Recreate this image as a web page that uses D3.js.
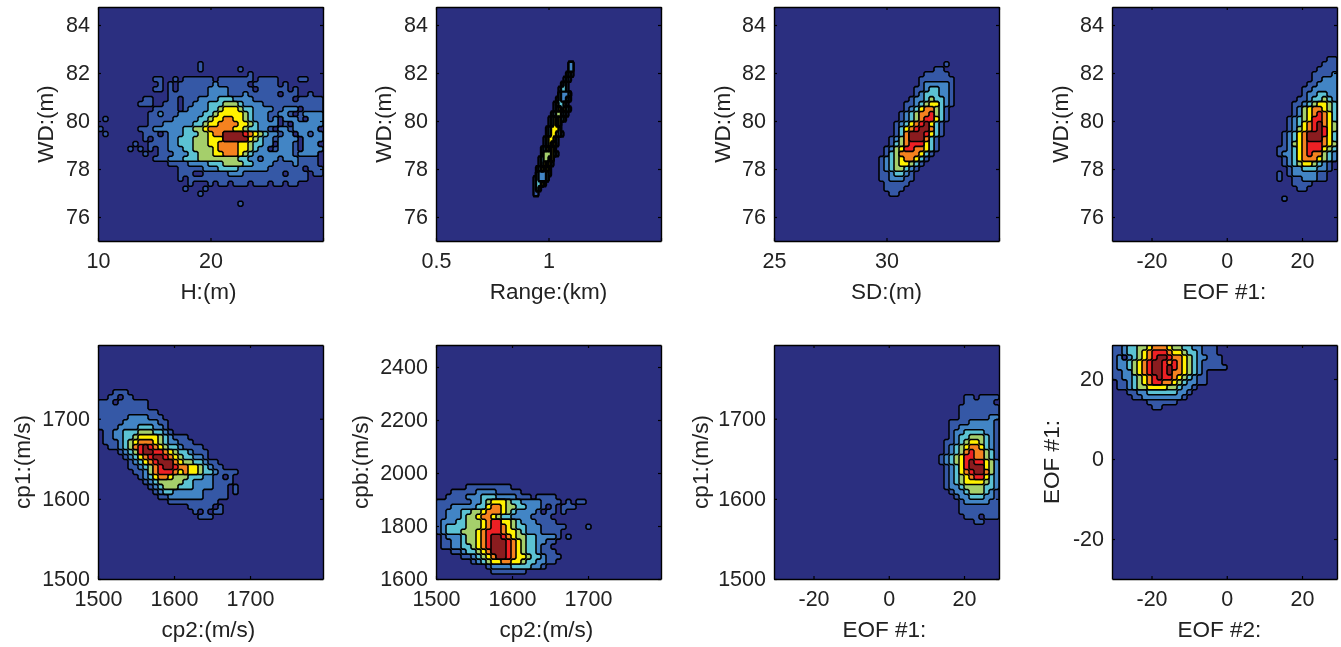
<!DOCTYPE html>
<html>
<head>
<meta charset="utf-8">
<script src="https://cdn.jsdelivr.net/npm/d3@7"></script>
<style>
  html, body { margin: 0; padding: 0; background: #fff; }
  svg { display: block; filter: blur(0.55px); }
  text { font-family: "Liberation Sans", Arial, sans-serif; fill: #222; }
</style>
</head>
<body>
<div id="chart"></div>
<script>
// axis ranges and labels, one entry per panel (top row then bottom row)
const xDomains = [[10, 30], [0.5, 1.5], [25, 35], [-30.5, 29.3], [1500, 1796], [1500, 1796], [-30.5, 29.3], [-30.5, 29.3]];
const yDomains = [[75, 84.75], [75, 84.75], [75, 84.75], [75, 84.75], [1500, 1792], [1600, 2483], [1500, 1792], [-30, 28.5]];
const xTicks = [[10, 20, 30], [0.5, 1, 1.5], [25, 30, 35], [-20, 0, 20], [1500, 1600, 1700], [1500, 1600, 1700], [-20, 0, 20], [-20, 0, 20]];
const xTickLabels = [["10", "20", ""], ["0.5", "1", ""], ["25", "30", ""], ["-20", "0", "20"], ["1500", "1600", "1700"], ["1500", "1600", "1700"], ["-20", "0", "20"], ["-20", "0", "20"]];
const wdTicks = [76, 78, 80, 82, 84];
const cp1Ticks = [1500, 1600, 1700];
const cpbTicks = [1600, 1800, 2000, 2200, 2400];
const eofTicks = [-20, 0, 20];
const yTicks = [wdTicks, wdTicks, wdTicks, wdTicks, cp1Ticks, cpbTicks, cp1Ticks, eofTicks];
const xLabels = ["H:(m)", "Range:(km)", "SD:(m)", "EOF #1:", "cp2:(m/s)", "cp2:(m/s)", "EOF #1:", "EOF #2:"];
const yLabels = ["WD:(m)", "WD:(m)", "WD:(m)", "WD:(m)", "cp1:(m/s)", "cpb:(m/s)", "cp1:(m/s)", "EOF #1:"];

// contour level of each histogram bin ('.' is the background level)
const gridH = [
"....................1",
"....................1.......1",
"..............................1",
"...........11..1.111111.1111111.1111....11",
"............1.1.11111112111111.11111.1",
"...........11.1.111111222211111.111111.1",
"..............1111111122221112111111.111..1",
".........11...11.1112222333222211111111.11111",
"........111..111.11222333444322221111111111111",
"...........11111.12222334555433222211222.1111",
"..........11211122222334555554322211221.12222",
".1........11111222223345566554322212.2221.222",
"..........11122222233455666655432222.1.222222",
"1.......111222222334456666655433221.22122222",
".1.......111.12223334456688887654322122.22122",
".........1.11122333444555888885432212222.2222",
".......1..1111223334445566665543322.2221.222",
"......1.1.1.1122233444456666554322.12221.2222",
".........1..11122233444556665432222222212222",
"...........111222333444444443322122212221111",
"..............111122223334444332222111121111.1",
"................1111122233332222221111111.1111",
"................111..1111122211111111.1111.11",
"................1.111111111111111111111111",
"..................1...1.11.111.111.11.11",
".................1...1",
"....................1",
"",
"............................1"];
const gridRange = [
".....................................................22",
".....................................................22",
"....................................................131",
"...................................................121",
"..................................................131",
".................................................1331",
".................................................32223",
"................................................132231",
"...............................................143341",
"...............................................1353531",
"..............................................1344231",
".............................................1353531",
".............................................13535",
"............................................135553",
"............................................1355431",
"...........................................135531",
"...........................................135351",
"..........................................135351",
"..........................................1444531",
".........................................134425",
".........................................135351",
"........................................135351",
"........................................322231",
".......................................132223",
".......................................13351",
".......................................131",
".......................................11"];
const gridSD = [
"..................................1",
"................................11",
"..............................11111",
".............................1111111",
".............................1222221",
"............................11233221",
"............................12333221",
"...........................122343321",
"..........................1123455321",
"..........................123566431",
".........................1234667431",
".........................1234677531",
"........................1235678531",
"........................1356788631",
"........................1368887531",
".......................1246888631",
".......................1346777531",
"......................12457766531",
"......................1346666531",
".....................1234566531",
".....................123455431",
".....................12344321",
".....................1123321",
".....................1122211",
"......................11111",
"......................1111",
".......................11"];
const gridEofWd = [
"...........................................11",
"..........................................111",
".........................................1111",
"........................................11112",
"........................................11222",
".......................................112222",
"......................................1122222",
"......................................1223322",
".....................................11233432",
"....................................112345543",
"....................................124566543",
"....................................124567653",
"...................................1234577653",
"...................................1235678654",
"...................................1245678754",
"..................................12356888753",
"..................................12356888653",
"..................................12456777654",
".................................112356777543",
".................................122356766432",
"..................................12356665432",
"..................................1234554321",
"...................................122333221",
".................................1.12222211",
".................................1..1122211",
"....................................1111",
".....................................11",
"",
"..................................1"];
const gridCp1 = [
"...111",
"..11.11",
"111.111111",
"1111111111",
"111111111111",
"1111112222111",
"11111222222211",
"11112222333221",
".11223334443321",
".11223345555432111",
".111234566654322111",
"..1123467876543321111",
"....123478877654332111",
".....12356788765433221",
"......123567888654433211",
"......1123467887665543211",
".......112467776565543321111",
"........12356654443332211.1",
".........123444443322221111",
"..........1234443332222111.1",
"...........123322222211111.1",
"............11222222211111",
"..............1111111111",
"..................11111.1",
"...................1.1.11",
"....................111"];
const gridCpb = [
"......111111111",
"...11111222211111",
"..11112223332222111.1111",
"1111111223455543322221111.1.11",
"1112222233566544332221.1.111",
"112223344566654322221.11.1",
"11222344566543322221111",
"122233444567755432221111",
"12333344456776543322211111....1",
"1233344456777655432221111",
".122234456788765443322221.1",
".11223445678887654332211",
".1122334567888765433211",
"...112334568887654332111",
".....11234568876554332111",
".......12345566554332211",
"..........122223333221",
"...........1111111"];
const gridEofCp1 = [
"......................................11.1111",
"......................................111111",
".....................................11111111",
".....................................11111111",
".....................................11111122",
"...................................1111222221",
"...................................1122222221",
"...................................1223333221",
"...................................1233444321",
"..................................11234554321",
"..................................12345665321",
"..................................12346766431",
".................................123457766431",
".................................123457877542",
"..................................12357888542",
"..................................12356788642",
"..................................12345677532",
"..................................12345555432",
"..................................12234444332",
"...................................1223444321",
"....................................122333221",
".....................................12222211",
".....................................11111111",
".....................................11111111",
"......................................111.1111",
"........................................11"];
const gridEofEof = [
"112334456665443322111",
"112334567776554332111",
"12.2345678876654322111",
"1223456788767654321111",
"12234567887876543211111",
"1122456788786654321",
"1122345678776543211",
".112345677665432211",
".1123445555443221",
"...1122333333221",
"....11222222221",
".......111111",
"........11"];

const grids = [gridH, gridRange, gridSD, gridEofWd, gridCp1, gridCpb, gridEofCp1, gridEofEof];
const gridFirstRows = [11, 11, 11, 10, 9, 28, 10, 0];
const gridCols = [45, 90, 45, 45, 45, 45, 45, 45];
const gridRowCount = 47;

const levels = [0.5, 1.5, 2.5, 3.5, 4.5, 5.5, 6.5, 7.5];
const levelColors = ["#3558a6", "#4285c5", "#5bc2d3", "#a5cf6b", "#fff100", "#f5821f", "#ed2024", "#8a1c1f"];
const backgroundColor = "#2b2f80";

const width = 1341;
const height = 647;
const panelLefts = [98, 436, 774, 1112];
const panelTops = [7, 345];
const panelWidth = 225;
const panelHeight = 234;
const xLabelShift = [-2, 0, 0, 0, -2, -2, -2, -5];
const yLabelX = [45, 383, 722, 1060, 22, 360, 700, 1051];
const contourStroke = [1.5, 2.4, 1.6, 1.6, 1.6, 1.6, 1.5, 1.6];
// each bin is repeated so contours step along the bin edges like the original
const repeat = 2;

const svg = d3.select("#chart").append("svg").attr("width", width).attr("height", height);

grids.forEach((rows, p) => {
  const left = panelLefts[p % 4];
  const top = panelTops[Math.floor(p / 4)];
  const xScale = d3.scaleLinear().domain(xDomains[p]).range([0, panelWidth]);
  const yScale = d3.scaleLinear().domain(yDomains[p]).range([panelHeight, 0]);

  const g = svg.append("g").attr("transform", `translate(${left},${top})`);

  svg.append("clipPath").attr("id", "clip" + p)
    .append("rect").attr("width", panelWidth).attr("height", panelHeight);

  // bins to flat array for d3.contours
  const nx = gridCols[p] * repeat;
  const ny = gridRowCount * repeat;
  const values = new Array(nx * ny).fill(0);
  rows.forEach((row, i) => {
    row.split("").forEach((c, j) => {
      if (c === "." || j >= gridCols[p]) return;
      for (let a = 0; a < repeat; a++) {
        for (let b = 0; b < repeat; b++) {
          values[((i + gridFirstRows[p]) * repeat + a) * nx + j * repeat + b] = +c;
        }
      }
    });
  });

  const dx = (xDomains[p][1] - xDomains[p][0]) / nx;
  const dy = (yDomains[p][1] - yDomains[p][0]) / ny;
  const path = d3.geoPath(d3.geoTransform({
    point(gx, gy) {
      this.stream.point(xScale(xDomains[p][0] + gx * dx), yScale(yDomains[p][1] - gy * dy));
    },
  }));

  const contours = d3.contours().size([nx, ny]).smooth(false).thresholds(levels)(values);

  const plot = g.append("g").attr("clip-path", `url(#clip${p})`);
  plot.append("rect").attr("width", panelWidth).attr("height", panelHeight).attr("fill", backgroundColor);
  plot.selectAll("path")
    .data(contours)
    .enter()
    .append("path")
    .attr("d", path)
    .attr("fill", (d, i) => levelColors[i])
    .attr("stroke", "#000")
    .attr("stroke-width", contourStroke[p])
    .attr("stroke-linejoin", "miter");

  // box with inward ticks on all four sides
  const bottom = d3.axisBottom(xScale).tickValues(xTicks[p]).tickSizeInner(-3).tickSizeOuter(0).tickPadding(12)
    .tickFormat((d, i) => xTickLabels[p][i]);
  const leftAxis = d3.axisLeft(yScale).tickValues(yTicks[p]).tickSizeInner(-3).tickSizeOuter(0).tickPadding(8)
    .tickFormat((d) => String(d));
  const topAxis = d3.axisTop(xScale).tickValues(xTicks[p]).tickSizeInner(-3).tickSizeOuter(0).tickFormat("");
  const rightAxis = d3.axisRight(yScale).tickValues(yTicks[p]).tickSizeInner(-3).tickSizeOuter(0).tickFormat("");

  const axes = [
    g.append("g").attr("transform", `translate(0,${panelHeight})`).call(bottom),
    g.append("g").call(leftAxis),
    g.append("g").call(topAxis),
    g.append("g").attr("transform", `translate(${panelWidth},0)`).call(rightAxis),
  ];
  axes.forEach((a) => {
    a.select(".domain").attr("stroke", "#000").attr("stroke-width", 1.4);
    a.selectAll("line").attr("stroke", "#000").attr("stroke-width", 1.2);
    a.selectAll("text").attr("font-size", 21.5).attr("fill", "#222").style("font-family", '"Liberation Sans", Arial, sans-serif');
  });

  g.append("text")
    .attr("x", panelWidth / 2 + xLabelShift[p])
    .attr("y", panelHeight + 58)
    .attr("text-anchor", "middle")
    .attr("font-size", 22.5)
    .text(xLabels[p]);

  svg.append("text")
    .attr("transform", `translate(${yLabelX[p]},${top + panelHeight / 2}) rotate(-90)`)
    .attr("dy", "0.35em")
    .attr("text-anchor", "middle")
    .attr("font-size", 22.5)
    .text(yLabels[p]);
});
</script>
</body>
</html>
